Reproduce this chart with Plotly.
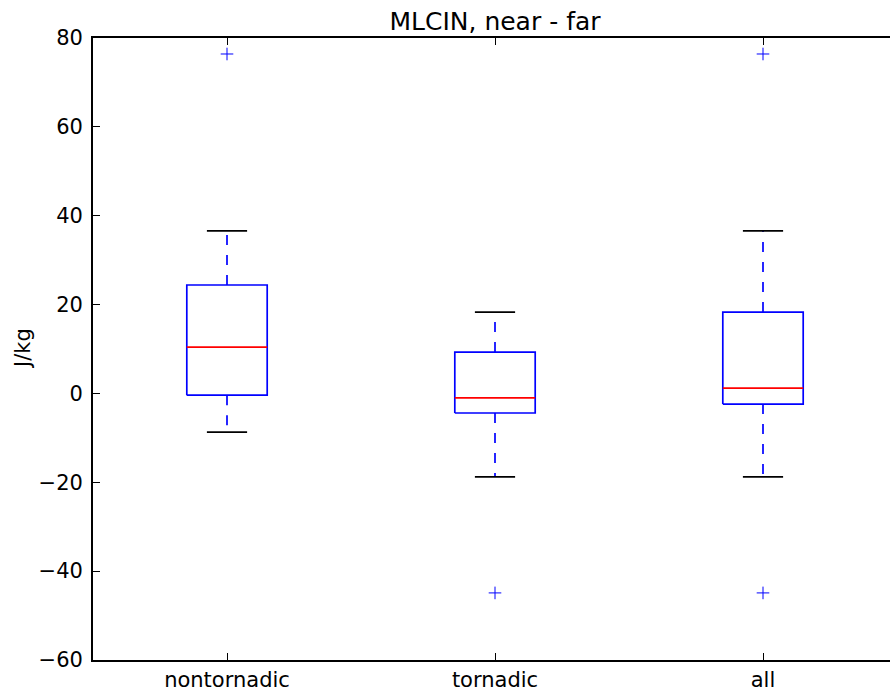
import plotly.graph_objects as go

# Box-plot summary statistics for MLCIN (near minus far), J/kg
categories = ["nontornadic", "tornadic", "all"]
q1 = [-0.4, -4.4, -2.4]
median = [10.4, -1.0, 1.2]
q3 = [24.4, 9.3, 18.3]
whisker_low = [-8.7, -18.8, -18.8]
whisker_high = [36.6, 18.3, 36.6]
outliers = [[76.4], [-44.9], [76.4, -44.9]]

y_ticks = [-60, -40, -20, 0, 20, 40, 60, 80]

BOX_HALF = 0.15
CAP_HALF = 0.075
LW = 1.7
FONT = "DejaVu Sans"

fig = go.Figure()

for i, name in enumerate(categories):
    x = i + 1
    # box outline
    fig.add_trace(go.Scatter(
        x=[x - BOX_HALF, x + BOX_HALF, x + BOX_HALF, x - BOX_HALF, x - BOX_HALF],
        y=[q1[i], q1[i], q3[i], q3[i], q1[i]],
        mode="lines", line=dict(color="#0000ff", width=LW),
        hoverinfo="skip", showlegend=False))
    # median
    fig.add_trace(go.Scatter(
        x=[x - BOX_HALF, x + BOX_HALF], y=[median[i], median[i]],
        mode="lines", line=dict(color="#ff0000", width=LW),
        hoverinfo="skip", showlegend=False))
    # dashed whiskers, drawn outward from the box
    for start, end in ((q3[i], whisker_high[i]), (q1[i], whisker_low[i])):
        fig.add_trace(go.Scatter(
            x=[x, x], y=[start, end], mode="lines",
            line=dict(color="#0000ff", width=LW, dash="10px,10px"),
            hoverinfo="skip", showlegend=False))
    # caps
    for w in (whisker_high[i], whisker_low[i]):
        fig.add_trace(go.Scatter(
            x=[x - CAP_HALF, x + CAP_HALF], y=[w, w], mode="lines",
            line=dict(color="black", width=LW),
            hoverinfo="skip", showlegend=False))
    # fliers
    fig.add_trace(go.Scatter(
        x=[x] * len(outliers[i]), y=outliers[i], mode="markers",
        marker=dict(symbol="cross-thin", size=9,
                    line=dict(color="#0000ff", width=1)),
        hoverinfo="skip", showlegend=False))

plot_left, plot_width = 93, 797
px_per_unit = 268
x_max = 0.5 + plot_width / px_per_unit

fig.update_layout(
    width=890, height=694,
    margin=dict(l=plot_left, r=0, t=38, b=34),
    paper_bgcolor="white", plot_bgcolor="white",
    font=dict(family=FONT, size=21, color="black"),
    title=dict(text="MLCIN, near - far", x=(495 - plot_left) / plot_width,
               xref="paper", xanchor="center", y=1 - 21 / 694,
               yanchor="middle", font=dict(size=25, family=FONT)),
    xaxis=dict(range=[0.5, x_max], tickvals=[1, 2, 3], ticktext=categories,
               ticks="inside", ticklen=7, tickwidth=1, tickcolor="black",
               showline=True, linecolor="black", linewidth=1.7,
               mirror="ticks", showgrid=False, zeroline=False),
    yaxis=dict(range=[-60, 80], tickvals=y_ticks,
               ticks="inside", ticklen=7, tickwidth=1, tickcolor="black",
               showline=True, linecolor="black", linewidth=1.7,
               showgrid=False, zeroline=False, ticklabelstandoff=4),
    annotations=[dict(text="J/kg", xref="paper", yref="paper",
                      x=(23 - plot_left) / plot_width, y=0.5,
                      textangle=-90, showarrow=False,
                      xanchor="center", yanchor="middle",
                      font=dict(size=21, family=FONT))],
)

fig.write_html("out.html")
